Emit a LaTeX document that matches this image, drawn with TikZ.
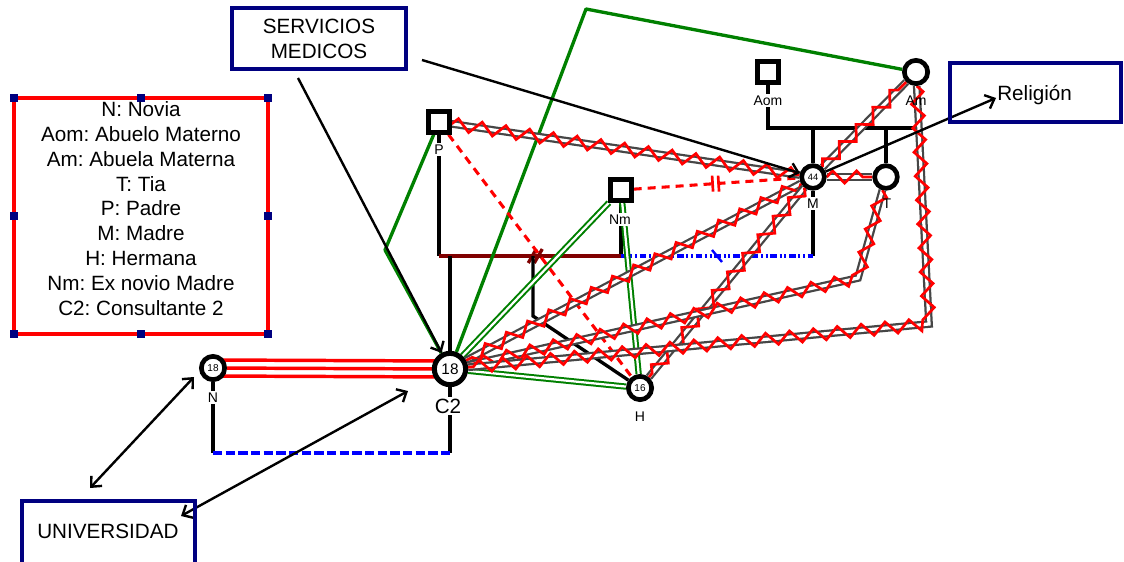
\documentclass[tikz,border=0pt]{standalone}
\usepackage{fontspec}
\setmainfont{Liberation Sans}
\usetikzlibrary{arrows.meta,decorations.pathmorphing,calc}
\pgfdeclarelayer{famlayer}
\pgfdeclarelayer{connlayer}
\pgfsetlayers{famlayer,connlayer,main}
\definecolor{navyb}{RGB}{0,0,128}
\definecolor{grn}{RGB}{0,128,0}
\definecolor{marl}{RGB}{128,0,0}
\definecolor{greyl}{RGB}{70,70,70}
\definecolor{redl}{RGB}{255,0,0}
\definecolor{bluel}{RGB}{0,0,255}
\frenchspacing
\tikzset{
  male/.style={draw, line width=3.5pt, fill=white, rectangle, inner sep=0pt, minimum size=15.5pt},
  fem/.style={draw, line width=3.5pt, fill=white, circle, inner sep=0pt},
  lab/.style={font=\fontsize{10.5}{12}\selectfont, fill=white, inner sep=1.2pt, anchor=base},
  labclear/.style={font=\fontsize{10.5}{12}\selectfont, inner sep=1.2pt, anchor=base},
  fam/.style={line width=2.5pt, black},
  marline/.style={line width=2.5pt, marl},
  bluedd/.style={line width=2.4pt, bluel, dash pattern=on 5pt off 2pt on 1.5pt off 2pt on 1.5pt off 2pt},
  bluedash/.style={line width=2.5pt, bluel, dash pattern=on 7pt off 2.5pt},
  grnline/.style={line width=2.5pt, grn, line join=round},
  grndbl/.style={draw=grn, line width=1.5pt, double=white, double distance=1.7pt},
  rdash/.style={line width=2.3pt, redl, dash pattern=on 6pt off 4.5pt},
  cbase/.style={draw=greyl, line width=1.7pt, double=white, double distance=2.4pt},
  czig/.style={draw=redl, line width=2pt, decorate, decoration={zigzag, segment length=18pt, amplitude=4.6pt}},
  redtri/.style={line width=2.6pt, redl},
  arr/.style={line width=1.8pt, black, -{Straight Barb[length=6pt, width=11pt]}},
  arrboth/.style={line width=1.8pt, black, {Straight Barb[length=6pt, width=11pt]}-{Straight Barb[length=6pt, width=11pt]}},
  boxn/.style={draw=navyb, line width=3.5pt, rectangle, inner sep=0pt, outer sep=0pt},
  btext/.style={font=\fontsize{15.5}{18.6}\selectfont, align=center, inner sep=0pt},
  legbox/.style={draw=redl, line width=3.5pt, rectangle, inner sep=0pt, outer sep=0pt},
  handle/.style={fill=navyb, rectangle, inner sep=0pt, minimum size=6.5pt},
}
\begin{document}
\begin{tikzpicture}[x=0.75pt,y=-0.75pt]
\useasboundingbox (0,0) rectangle (1124,561);
% ---- symbols
\node[male] (P) at (439,122) {};
\node[male] (Nm) at (621,190) {};
\node[male] (Aom) at (768,72) {};
\node[fem, minimum size=17.5pt] (Am) at (916,72) {};
\node[fem, minimum size=17pt, font=\fontsize{7}{8}\selectfont] (M) at (813,177) {44};
\node[fem, minimum size=17pt] (T) at (886,177) {};
\node[fem, minimum size=23.5pt, line width=3.8pt, font=\fontsize{11.5}{12}\selectfont] (C2) at (450,369) {18};
\node[fem, minimum size=17.5pt, font=\fontsize{7.5}{8}\selectfont] (H) at (640,388) {16};
\node[fem, minimum size=17.5pt, font=\fontsize{7.5}{8}\selectfont] (N) at (213,368) {18};
% ---- labels
\node[lab] (PL) at (439,154) {P};
\node[lab] (NmL) at (620,224) {Nm};
\node[lab] (AomL) at (768,105) {Aom};
\node[labclear] (AmL) at (916,105) {Am};
\node[lab] (ML) at (813,208) {M};
\node[labclear] (TL) at (887,208) {T};
\node[lab] (HL) at (640,421) {H};
\node[lab] (NL) at (213,402) {N};
\node[lab, font=\fontsize{15.5}{17}\selectfont] (C2L) at (448,413) {C2};
% ---- boxes
\node[boxn, btext, minimum width=130.5pt, minimum height=45.75pt] (serv) at (319,38.5) {SERVICIOS\\MEDICOS};
\node[boxn, minimum width=128.25pt, minimum height=44.25pt] (rel) at (1035.5,92.5) {};
\node[btext, anchor=base west] (relt) at (997,100) {Religión};
\node[boxn, minimum width=129.75pt, minimum height=48.75pt] (univ) at (108.5,533.5) {};
\node[btext, anchor=base west] (univt) at (37,538) {UNIVERSIDAD};
% ---- legend
\node[legbox, minimum width=190.5pt, minimum height=177pt] (leg) at (141,216) {};
\foreach \a [count=\i] in {north west,north,north east,west,east,south west,south,south east}
  \node[handle] (hd\i) at (leg.\a) {};
\node[btext] (legt) at (141,208.5) {N: Novia\\Aom: Abuelo Materno\\Am: Abuela Materna\\T: Tia\\P: Padre\\M: Madre\\H: Hermana\\Nm: Ex novio Madre\\C2: Consultante 2};
% ---- family lines
\begin{pgfonlayer}{famlayer}
\coordinate (sibL) at (768,128);
\coordinate (sibR) at (917,128);
\draw[fam] (Aom.south) -- (sibL) -- (sibR);
\draw[fam] (M.north) -- (M.north |- sibL);
\draw[fam] (T.north) -- (T.north |- sibL);
\coordinate (mPL) at (439,256);
\coordinate (mNm) at (621,256);
\coordinate (mMR) at (813,256);
\draw[fam] (P.south) -- (mPL);
\draw[fam] (Nm.south) -- (mNm);
\draw[fam] (M.south) -- (mMR);
\draw[marline] (mPL) -- (mNm);
\draw[bluedd] (mNm) -- (mMR);
\coordinate (divm) at ($(mPL)!0.54!(mNm)$);
\draw[marline] ([shift={(-9,7)}]divm) -- ([shift={(-1,-7)}]divm) ([shift={(-3,7)}]divm) -- ([shift={(5,-7)}]divm);
\coordinate (sepm) at ($(mNm)!0.5!(mMR)$);
\draw[bluel, line width=1.8pt] ([shift={(-5,-6)}]sepm) -- ([shift={(5,6)}]sepm);
\draw[fam] (C2.north) -- (C2.north |- mPL);
\coordinate (hk) at (533,316);
\draw[fam] (hk |- mPL) -- (hk) -- (H);
\coordinate (ncb) at (213,453);
\draw[fam] (N.south) -- (ncb);
\draw[fam] (C2.south) -- (C2.south |- ncb);
\draw[bluedash] (ncb) -- (C2.south |- ncb);
\end{pgfonlayer}
% ---- relationships
\begin{pgfonlayer}{connlayer}
\coordinate (g1) at (586,9);
\coordinate (g2) at (385,250);
\draw[grnline] (Am) -- (g1) -- (C2);
\draw[grnline] (P) -- (g2) -- (C2);
\draw[grndbl] (Nm) -- (C2);
\draw[grndbl] (Nm) -- (H);
\draw[grndbl] (C2) -- (H);
\draw[rdash] (P) -- (H);
\draw[rdash] (Nm) -- (M);
\coordinate (nmm) at ($(Nm)!0.49!(M)$);
\draw[redl, line width=2pt] ([shift={(-3,-8)}]nmm) -- ([shift={(-2,8)}]nmm) ([shift={(3,-8)}]nmm) -- ([shift={(4,8)}]nmm);
\coordinate (tk) at (858,278);
\coordinate (amk) at (929,324);
\foreach \a/\b in {P/M, M/T, M/Am, M/C2, M/H} {
  \draw[cbase] (\a) -- (\b);
  \draw[czig] (\a) -- (\b);
}
\draw[cbase] (T) -- (tk) -- (C2);
\draw[czig] (T) -- (tk) -- (C2);
\draw[cbase] (Am) -- (amk) -- (C2);
\draw[czig] (Am) -- (amk) -- (C2);
\draw[redtri] ($(N)+(0,-8)$) -- ($(C2)+(0,-8)$);
\draw[redtri] (N) -- (C2);
\draw[redtri] ($(N)+(0,8)$) -- ($(C2)+(0,8)$);
% arrows
\coordinate (servA) at (298,78);
\coordinate (servB) at (422,60);
\coordinate (relTip) at (996,98);
\coordinate (uA) at (90,488);
\coordinate (uB) at (194,377);
\coordinate (uC) at (181,516);
\coordinate (uD) at (408,391);
\draw[arr] (servA) -- (C2);
\draw[arr] (servB) -- (M);
\draw[arr] (M) -- (relTip);
\draw[arrboth] (uA) -- (uB);
\draw[arrboth] (uC) -- (uD);
\end{pgfonlayer}
\end{tikzpicture}
\end{document}
